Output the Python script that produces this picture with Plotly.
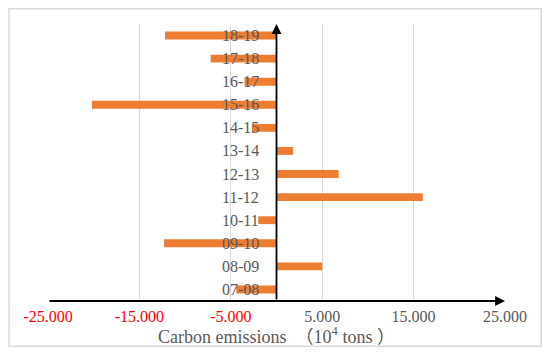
import plotly.graph_objects as go

periods = ["07-08", "08-09", "09-10", "10-11", "11-12", "12-13",
           "13-14", "14-15", "15-16", "16-17", "17-18", "18-19"]
emissions = [-4400, 5000, -12300, -2000, 16000, 6800,
             1800, -2700, -20200, -3500, -7200, -12200]
tick_vals = [-25000, -15000, -5000, 5000, 15000, 25000]
tick_labels = ["-25.000", "-15.000", "-5.000", "5.000", "15.000", "25.000"]
x_title = "Carbon emissions  （10<sup>4</sup> tons ）"

GRAY = "#595959"
SERIF = "Liberation Serif, Noto Sans CJK SC, serif"
ticktext = [
    f"<span style='color:#ff0000'>{t}</span>" if v < 0 else f"<span style='color:{GRAY}'>{t}</span>"
    for v, t in zip(tick_vals, tick_labels)
]
idx = list(range(len(periods)))

fig = go.Figure()
fig.add_trace(go.Bar(
    x=emissions, y=idx, orientation="h",
    marker=dict(color="#ED7D31", line=dict(width=0)),
    width=0.34, customdata=periods,
    hovertemplate="%{customdata}: %{x}<extra></extra>",
))

annotations = []
for i, p in zip(idx, periods):
    annotations.append(dict(
        x=0, y=i, xref="x", yref="y", text=p, showarrow=False,
        xanchor="right", yanchor="middle", xshift=-16,
        font=dict(family=SERIF, size=16, color=GRAY),
    ))
# horizontal axis arrow
annotations.append(dict(
    x=tick_vals[-1], y=-0.5, ax=tick_vals[0], ay=-0.5,
    xref="x", yref="y", axref="x", ayref="y", text="",
    showarrow=True, arrowhead=2, arrowsize=1.1, arrowwidth=1.8, arrowcolor="#000000",
))
# vertical axis arrow
annotations.append(dict(
    x=0, y=len(periods) - 0.5, ax=0, ay=-0.5,
    xref="x", yref="y", axref="x", ayref="y", text="",
    showarrow=True, arrowhead=2, arrowsize=1.1, arrowwidth=1.8, arrowcolor="#000000",
))

fig.update_layout(
    width=534, height=339,
    margin=dict(l=40, r=37, t=16, b=46, autoexpand=False),
    paper_bgcolor="white", plot_bgcolor="white",
    showlegend=False,
    annotations=annotations,
    shapes=[dict(
        type="rect", xref="paper", yref="paper",
        x0=-0.0852, x1=1.0793, y0=-0.1634, y1=1.0551,
        line=dict(color="#d9d9d9", width=1.5), fillcolor="rgba(0,0,0,0)",
        layer="below",
    )],
    xaxis=dict(
        range=[tick_vals[0], tick_vals[-1]],
        tickvals=tick_vals, ticktext=ticktext,
        showgrid=True, gridcolor="#d9d9d9", gridwidth=1,
        zeroline=False, showline=False, ticks="", automargin=False,
        ticklabelstandoff=4,
        tickfont=dict(family=SERIF, size=16, color=GRAY),
        title=dict(text=x_title, standoff=0,
                   font=dict(family=SERIF, size=18, color=GRAY)),
    ),
    yaxis=dict(
        range=[-0.5, len(periods) - 0.5],
        showticklabels=False, showgrid=False, zeroline=False, showline=False,
        ticks="", automargin=False,
    ),
)

fig.write_html("out.html")
